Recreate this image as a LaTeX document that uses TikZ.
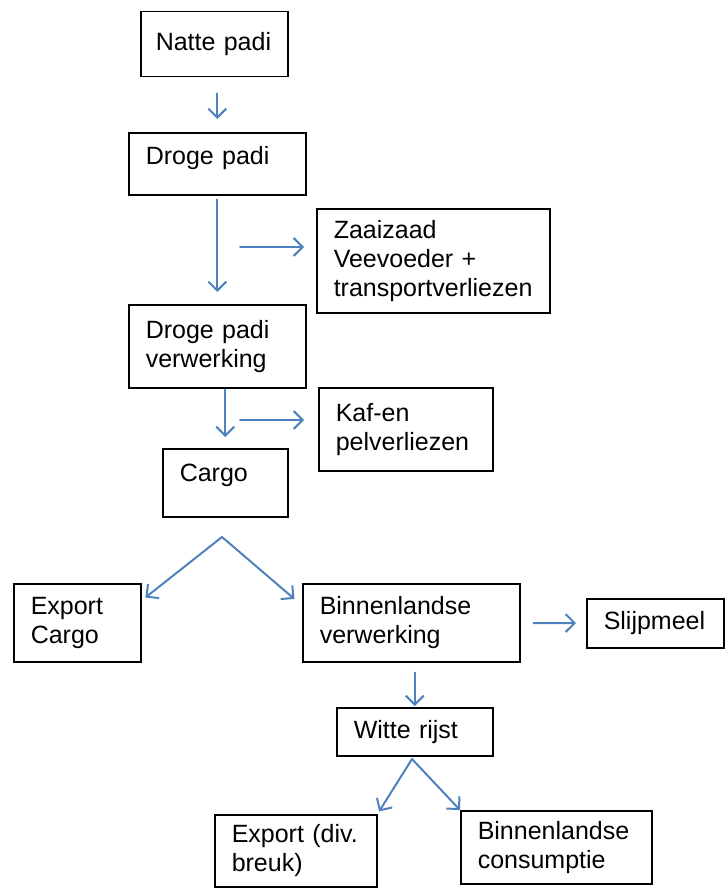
\documentclass[tikz,border=0pt]{standalone}
\usepackage{fontspec}
\setmainfont{Liberation Sans}
\usetikzlibrary{arrows.meta}
\definecolor{flowblue}{HTML}{4F81BD}

\begin{document}
\begin{tikzpicture}[
			x=1pt, y=-1pt,
			box/.style={
				rectangle,
				draw,
				line width=1.5pt,
				align=left,
				anchor=north west,
				inner xsep=17pt,
				font=\fontsize{25}{29}\selectfont,
			},
			ArrowB/.style={% blue open arrows
				draw=flowblue,
				line width=2pt,
				line cap=round,
				-{Straight Barb[length=9pt,width=18pt]},
			},
			]
				\useasboundingbox (0,0) rectangle (727,888);
				% padi
				\node[box, text width=117pt, inner xsep=15pt, minimum height=65pt] (natte) at (140,11) {Natte padi};
				\node[box, text width=143pt, minimum height=62pt, text depth=16pt] (droge) at (128,132) {Droge padi};
				\node[box, text width=199pt, minimum height=104pt] (zaai) at (316,208) {Zaaizaad\\Veevoeder +\\transportverliezen};
				\node[box, text width=143pt, minimum height=83pt] (verw) at (128,304) {Droge padi\\verwerking};
				\node[box, text width=140pt, minimum height=83pt] (kaf) at (318,387) {Kaf-en\\pelverliezen};
				\node[box, text width=91pt, minimum height=68pt, text depth=20pt] (cargo) at (162,448) {Cargo};
				
				% cargo
				\node[box, text width=93pt, minimum height=78pt] (exportcargo) at (13,583) {Export\\Cargo};
				\node[box, text width=183pt, minimum height=78pt] (binnenverw) at (302,583) {Binnenlandse\\verwerking};
				\node[box, text width=103pt, minimum height=49pt] (slijpmeel) at (586,598) {Slijpmeel};
				
				% witte rijst
				\node[box, text width=122pt, minimum height=48pt] (witte) at (336,707) {Witte rijst};
				\node[box, text width=128pt, minimum height=72pt] (exportdiv) at (214,814) {Export (div.\\breuk)};
				\node[box, text width=157pt, minimum height=73pt] (consumptie) at (460,810) {Binnenlandse\\consumptie};
				
				\coordinate (zaaistart) at (240,247);
				\coordinate (kafstart) at (240,420);
				\coordinate (cargosplit) at (222,537);
				\coordinate (wittesplit) at (412,759);
				
				\draw[ArrowB, shorten <=16pt, shorten >=13pt] (natte.south -| droge.north) -- (droge.north);
				\draw[ArrowB, shorten <=4pt, shorten >=12pt] (droge.south) -- (verw.north);
				\draw[ArrowB, shorten >=12pt] (zaaistart) -- (zaaistart -| zaai.west);
				\draw[ArrowB, shorten <=1pt, shorten >=11pt] (verw.south -| cargo.north) -- (cargo.north);
				\draw[ArrowB, shorten >=14pt] (kafstart) -- (kafstart -| kaf.west);
				
				\draw[ArrowB, shorten >=5pt] (cargosplit) -- (exportcargo.19);
				\draw[ArrowB, shorten >=10pt] (cargosplit) -- (binnenverw.171);
				\draw[ArrowB, shorten <=13pt, shorten >=10pt] (binnenverw) -- (slijpmeel);
				\draw[ArrowB, shorten <=10pt, shorten >=1pt] (binnenverw.south -| witte.north) -- (witte.north);
				
				\draw[ArrowB, shorten >=3pt] (wittesplit) -- (exportdiv.north east);
				\draw[ArrowB] (wittesplit) -- (consumptie.north west);
			\end{tikzpicture}
\end{document}
